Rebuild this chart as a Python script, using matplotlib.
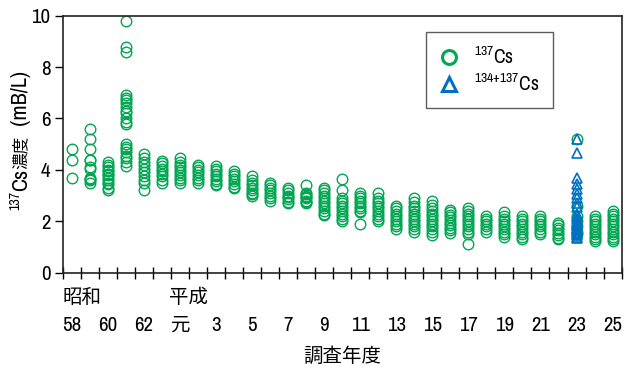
import matplotlib
matplotlib.use("Agg")
import matplotlib.pyplot as plt
from matplotlib import font_manager
from matplotlib.lines import Line2D
from matplotlib.transforms import blended_transform_factory

# look for a narrow latin face (the original uses an Arial Narrow like font)
fonts = font_manager.fontManager.ttflist
narrow = None
for f in fonts:
    if "Narrow" in f.name:
        narrow = (f.name, "normal")
        break
if narrow is None:
    for f in fonts:
        if f.name == "DejaVu Sans" and "Condensed" in f.fname and f.style == "normal" \
                and f.weight in (400, "normal"):
            narrow = ("DejaVu Sans", "condensed")
            break
if narrow is None:
    narrow = ("Liberation Sans", "normal")
lat, stretch = narrow
jp = "Noto Sans CJK JP"

plt.rcParams["font.family"] = [lat, jp]
plt.rcParams["font.stretch"] = stretch
plt.rcParams["mathtext.fontset"] = "custom"
plt.rcParams["mathtext.rm"] = f"{lat}:stretch={stretch}"
plt.rcParams["mathtext.it"] = f"{lat}:stretch={stretch}"
plt.rcParams["mathtext.default"] = "regular"

# survey years (Showa 58 .. Heisei 25)
years = ["58", "59", "60", "61", "62", "63", "元", "2", "3", "4", "5", "6", "7", "8", "9",
         "10", "11", "12", "13", "14", "15", "16", "17", "18", "19", "20", "21", "22",
         "23", "24", "25"]
tick_labels = ["58", "", "60", "", "62", "", "元", "", "3", "", "5", "", "7", "", "9", "",
               "11", "", "13", "", "15", "", "17", "", "19", "", "21", "", "23", "", "25"]

# 137Cs concentration (mBq/L), one list per year
cs137 = [
    [4.8, 4.4, 3.7],
    [5.6, 5.2, 4.8, 4.4, 4.4, 4.1, 4.05, 3.7, 3.65, 3.6, 3.5],
    [4.3, 4.2, 4.1, 4.0, 3.95, 3.85, 3.8, 3.7, 3.6, 3.5, 3.45, 3.3, 3.2],
    [9.8, 8.8, 8.6, 6.9, 6.8, 6.7, 6.6, 6.45, 6.3, 6.2, 6.0, 5.85, 5.8, 5.0, 4.9, 4.8,
     4.7, 4.55, 4.45, 4.3, 4.15],
    [4.6, 4.45, 4.3, 4.2, 4.05, 3.9, 3.75, 3.6, 3.5, 3.2],
    [4.35, 4.25, 4.15, 4.05, 3.95, 3.85, 3.75, 3.6, 3.5],
    [4.45, 4.3, 4.2, 4.1, 4.0, 3.9, 3.8, 3.7, 3.6, 3.5],
    [4.2, 4.1, 4.0, 3.9, 3.8, 3.7, 3.6, 3.5],
    [4.15, 4.05, 3.95, 3.85, 3.75, 3.65, 3.55, 3.45, 3.4],
    [3.95, 3.85, 3.75, 3.65, 3.55, 3.45, 3.35, 3.3],
    [3.75, 3.6, 3.5, 3.4, 3.3, 3.2, 3.1, 3.05, 3.0],
    [3.5, 3.4, 3.3, 3.2, 3.1, 3.0, 2.9, 2.8],
    [3.3, 3.2, 3.1, 3.0, 2.95, 2.85, 2.75, 2.7],
    [3.4, 3.1, 3.05, 3.0, 2.95, 2.9, 2.8, 2.75, 2.7],
    [3.3, 3.2, 3.1, 3.0, 2.9, 2.8, 2.7, 2.6, 2.5, 2.4, 2.3, 2.25],
    [3.65, 3.2, 2.9, 2.8, 2.7, 2.6, 2.5, 2.4, 2.3, 2.2, 2.1, 2.0],
    [3.1, 3.0, 2.9, 2.8, 2.7, 2.6, 2.5, 2.4, 2.35, 1.9],
    [3.1, 2.9, 2.8, 2.7, 2.6, 2.5, 2.4, 2.3, 2.2, 2.1, 2.0],
    [2.6, 2.5, 2.4, 2.3, 2.2, 2.1, 2.0, 1.9, 1.8, 1.7],
    [2.9, 2.75, 2.6, 2.5, 2.4, 2.3, 2.2, 2.1, 2.0, 1.9, 1.8, 1.7, 1.6],
    [2.8, 2.65, 2.5, 2.4, 2.3, 2.2, 2.1, 2.0, 1.9, 1.8, 1.7, 1.6, 1.45],
    [2.45, 2.35, 2.25, 2.15, 2.05, 1.95, 1.85, 1.75, 1.65, 1.55],
    [2.5, 2.4, 2.3, 2.2, 2.1, 2.0, 1.9, 1.8, 1.7, 1.6, 1.5, 1.1],
    [2.2, 2.1, 2.0, 1.9, 1.8, 1.7, 1.6],
    [2.35, 2.2, 2.1, 2.0, 1.9, 1.8, 1.7, 1.6, 1.5, 1.4],
    [2.2, 2.1, 2.0, 1.9, 1.8, 1.7, 1.6, 1.5, 1.4, 1.3],
    [2.2, 2.1, 2.0, 1.9, 1.8, 1.7, 1.6, 1.5],
    [1.95, 1.85, 1.75, 1.65, 1.55, 1.45, 1.35, 1.3],
    [5.2, 2.6, 2.2, 2.0, 1.8, 1.6, 1.5],
    [2.2, 2.1, 2.0, 1.9, 1.8, 1.7, 1.6, 1.5, 1.4, 1.3, 1.25],
    [2.4, 2.3, 2.2, 2.1, 2.0, 1.9, 1.8, 1.7, 1.6, 1.5, 1.4, 1.3, 1.25],
]

# 134+137Cs, Heisei 23 only
cs_sum_year = "23"
cs_sum = [5.2, 4.65, 3.7, 3.45, 3.25, 3.05, 2.9, 2.7, 2.55, 2.3, 2.2, 2.1, 2.0, 1.95,
          1.9, 1.85, 1.8, 1.75, 1.7, 1.65, 1.6, 1.55, 1.5, 1.45, 1.4, 1.35]

green = "#00a651"
blue = "#0070c0"

fig = plt.figure(figsize=(6.25, 3.74), dpi=100)
ax = fig.add_axes([0.1008, 0.271, 0.8937, 0.687])

for i, vals in enumerate(cs137):
    ax.plot([i] * len(vals), vals, "o", ms=7.6, mfc="none", mec=green, mew=1.0)

k = years.index(cs_sum_year)
ax.plot([k] * len(cs_sum), cs_sum, "^", ms=7.6, mfc="none", mec=blue, mew=1.2)

ax.set_xlim(-0.5, len(years) - 0.5)
ax.set_ylim(0, 10)
ax.set_yticks([0, 2, 4, 6, 8, 10])
ax.tick_params(axis="y", direction="out", length=6, width=1, labelsize=15, pad=3)

ax.set_xticks(range(len(years)))
ax.set_xticklabels(tick_labels)
ax.set_xticks([i - 0.5 for i in range(len(years) + 1)], minor=True)
ax.tick_params(axis="x", which="major", length=0, labelsize=15, pad=31)
ax.tick_params(axis="x", which="minor", direction="inout", length=9, width=1)
for t in ax.get_xticklabels():
    if t.get_text() == "元":
        t.set_fontsize(14)

for s in ax.spines.values():
    s.set_linewidth(1.2)
    s.set_color("#222222")

trans = blended_transform_factory(ax.transData, ax.transAxes)
ax.text(-0.5, -0.098, "昭和", transform=trans, ha="left", va="center", fontsize=14,
        family=jp)
ax.text(years.index("元") - 0.6, -0.098, "平成", transform=trans, ha="left", va="center",
        fontsize=14, family=jp)

ax.set_xlabel("調査年度", fontsize=14, family=jp)
ax.xaxis.set_label_coords(0.5, -0.285)

# y label built from pieces, bottom to top: small raised "137", then Cs濃度 (mB/L)
renderer = fig.canvas.get_renderer()
pieces = [("137", 10, lat, 15), ("Cs", 16, lat, 21), ("濃度", 12, jp, 21),
          ("  (mB/L)", 16, lat, 21)]
y = 1 - 210 / 374
for txt, size, fam, xpx in pieces:
    t = fig.text(xpx / 625, y, txt, rotation=90, ha="center", va="bottom",
                 fontsize=size, family=fam)
    y += t.get_window_extent(renderer).height / fig.bbox.height

handles = [
    Line2D([], [], ls="none", marker="o", ms=10, mfc="none", mec=green, mew=2.2),
    Line2D([], [], ls="none", marker="^", ms=10, mfc="none", mec=blue, mew=2.2),
]
leg = ax.legend(handles, ["$^{137}$Cs", "$^{134{+}137}$Cs"], loc="upper left",
                bbox_to_anchor=(0.649, 0.935), fontsize=14, frameon=True, fancybox=False,
                borderpad=0.7, handlelength=1.0, handletextpad=0.8, labelspacing=0.3,
                borderaxespad=0)
leg.get_frame().set_edgecolor("#333333")
leg.get_frame().set_linewidth(1.0)

fig.savefig("out.png", dpi=100)
